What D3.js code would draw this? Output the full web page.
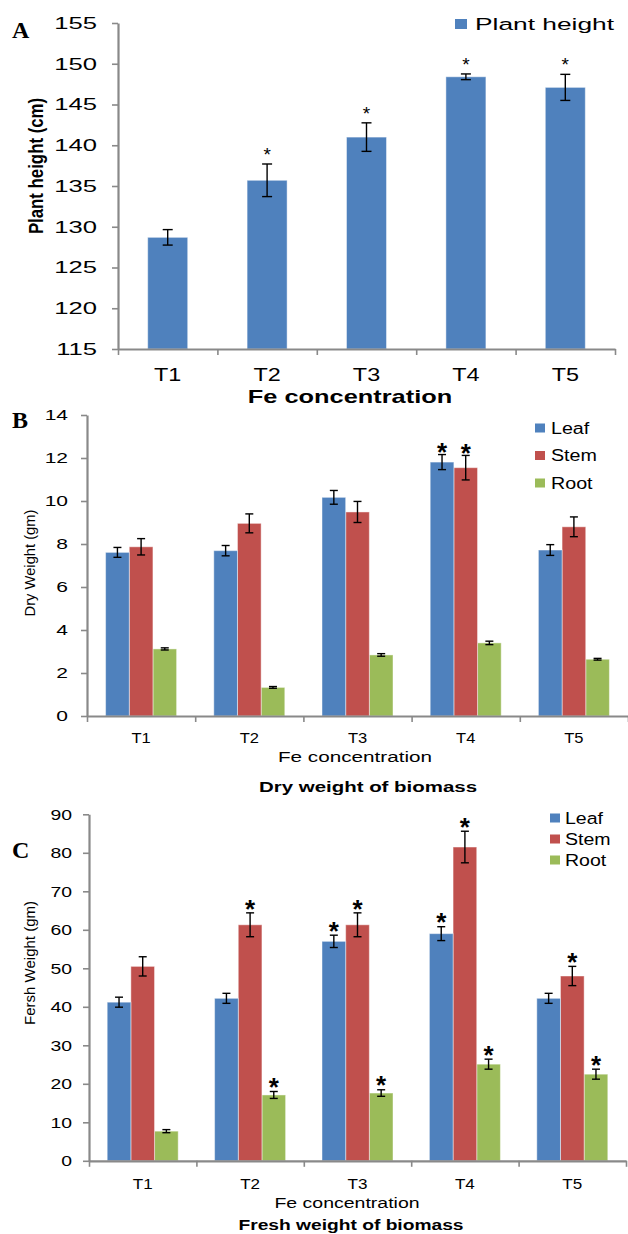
<!DOCTYPE html>
<html>
<head>
<meta charset="utf-8">
<script src="https://cdn.jsdelivr.net/npm/d3@7"></script>
<style>
body { margin: 0; background: #fff; }
svg { display: block; }
</style>
</head>
<body>
<svg id="chart" width="628" height="1234"></svg>
<script>
var categories = ["T1", "T2", "T3", "T4", "T5"];
var series = ["Leaf", "Stem", "Root"];
var colors = ["#4f81bd", "#c0504d", "#9bbb59"];

// A - plant height
var heightTicks = [115, 120, 125, 130, 135, 140, 145, 150, 155];
var heightMean = [128.7, 135.7, 141.0, 148.4, 147.1];
var heightErr = [0.95, 2.0, 1.75, 0.35, 1.6];
var heightSig = [0, 1, 1, 1, 1];

// B - dry weight
var dryTicks = [0, 2, 4, 6, 8, 10, 12, 14];
var dryLeaf = [7.61, 7.69, 10.17, 11.81, 7.72];
var dryStem = [7.87, 8.96, 9.49, 11.55, 8.80];
var dryRoot = [3.12, 1.33, 2.84, 3.40, 2.64];
var dryLeafErr = [0.23, 0.24, 0.32, 0.35, 0.25];
var dryStemErr = [0.38, 0.44, 0.49, 0.57, 0.46];
var dryRootErr = [0.05, 0.04, 0.06, 0.08, 0.04];
var dryLeafSig = [0, 0, 0, 1, 0];
var dryStemSig = [0, 0, 0, 1, 0];
var dryRootSig = [0, 0, 0, 0, 0];

// C - fresh weight
var freshTicks = [0, 10, 20, 30, 40, 50, 60, 70, 80, 90];
var freshLeaf = [41.2, 42.2, 57.0, 59.0, 42.2];
var freshStem = [50.5, 61.3, 61.3, 81.5, 48.0];
var freshRoot = [7.7, 17.1, 17.6, 25.1, 22.5];
var freshLeafErr = [1.3, 1.3, 1.6, 1.8, 1.3];
var freshStemErr = [2.5, 3.1, 3.1, 4.1, 2.5];
var freshRootErr = [0.4, 0.9, 0.85, 1.3, 1.3];
var freshLeafSig = [0, 0, 1, 1, 0];
var freshStemSig = [0, 1, 1, 1, 1];
var freshRootSig = [0, 1, 1, 1, 1];

var svg = d3.select("#chart");
var SANS = "'Liberation Sans', Arial, sans-serif";
var SERIF = "'Liberation Serif', 'Times New Roman', serif";
var AXIS = "#898989";

function label(g, str, x, y, o) {
    var tr = "translate(" + x + "," + y + ")";
    if (o.rotate) tr += " rotate(-90)";
    tr += " scale(" + (o.sx || 1) + ",1)";
    return g.append("text")
        .attr("transform", tr)
        .attr("text-anchor", o.anchor || "middle")
        .attr("font-family", o.family || SANS)
        .attr("font-size", o.size)
        .attr("font-weight", o.weight || "normal")
        .attr("fill", "#000")
        .text(str);
}

function errorBar(g, cx, y, v, e, cap) {
    g.append("line").attr("x1", cx).attr("x2", cx)
        .attr("y1", y(v + e)).attr("y2", y(v - e));
    g.append("line").attr("x1", cx - cap).attr("x2", cx + cap)
        .attr("y1", y(v + e)).attr("y2", y(v + e));
    g.append("line").attr("x1", cx - cap).attr("x2", cx + cap)
        .attr("y1", y(v - e)).attr("y2", y(v - e));
}

function drawPanel(p) {
    var g = svg.append("g");
    var y = d3.scaleLinear().domain(p.yDomain).range(p.yRange);
    var x = d3.scaleBand().domain(categories).range(p.xRange).padding(0);
    var bw = x.bandwidth();

    // bars
    var groupW = p.groupW;
    var inner = d3.scaleBand().domain(d3.range(p.values.length))
        .range([(bw - groupW) / 2, (bw + groupW) / 2]).padding(0);
    var eb = g.append("g").attr("stroke", "#000").attr("stroke-width", 1.4);

    p.values.forEach(function (vals, s) {
        var col = p.colors[s];
        g.insert("g", ":first-child").selectAll("rect")
            .data(vals)
            .enter().append("rect")
            .attr("x", function (d, i) { return x(categories[i]) + inner(s); })
            .attr("y", function (d) { return y(d); })
            .attr("width", inner.bandwidth())
            .attr("height", function (d) { return y(p.yDomain[0]) - y(d); })
            .attr("fill", col)
            .attr("stroke", "rgba(255,255,255,0.45)")
            .attr("stroke-width", 1);

        vals.forEach(function (d, i) {
            var cx = x(categories[i]) + inner(s) + inner.bandwidth() / 2;
            var e = p.errors[s][i];
            errorBar(eb, cx, y, d, e, p.cap);
            if (p.sig[s][i]) {
                var cy = y(d + e) - p.starGap;
                label(g, "*", cx, cy + p.starSize * 0.585, {
                    size: p.starSize, weight: p.starWeight
                });
            }
        });
    });

    // y axis
    var ya = g.append("g")
        .attr("transform", "translate(" + p.xRange[0] + ",0)")
        .call(d3.axisLeft(y).tickValues(p.ticks).tickSize(6).tickSizeOuter(0).tickFormat(""));
    ya.select(".domain").attr("stroke", AXIS).attr("stroke-width", 2.2);
    ya.selectAll(".tick line").attr("stroke", AXIS).attr("stroke-width", 1.6);

    p.ticks.forEach(function (t) {
        label(g, t, p.yLabelX, y(t) + p.yLabelSize * 0.36, {
            size: p.yLabelSize, sx: p.yLabelSx, anchor: "end"
        });
    });

    // x axis, ticks at band edges
    var edges = d3.scaleLinear().domain([0, categories.length]).range(p.xRange);
    var xa = g.append("g")
        .attr("transform", "translate(0," + p.yRange[0] + ")")
        .call(d3.axisBottom(edges).tickValues(d3.range(categories.length + 1))
            .tickSize(6).tickSizeOuter(0).tickFormat(""));
    xa.select(".domain").attr("stroke", AXIS).attr("stroke-width", 2.2);
    xa.selectAll(".tick line").attr("stroke", AXIS).attr("stroke-width", 1.6);

    categories.forEach(function (c) {
        label(g, c, x(c) + bw / 2, p.xLabelY + p.xLabelSize * 0.36, {
            size: p.xLabelSize, sx: p.xLabelSx
        });
    });

    // titles
    label(g, "Fe concentration", p.xTitle[0], p.xTitle[1], p.xTitleStyle);
    label(g, p.yTitle, p.yTitlePos[0], p.yTitlePos[1], p.yTitleStyle);
    if (p.title) label(g, p.title, p.titlePos[0], p.titlePos[1], p.titleStyle);
    label(g, p.letter, p.letterPos[0], p.letterPos[1], {
        size: 24, weight: "bold", family: SERIF, anchor: "start"
    });

    // legend
    p.legendNames.forEach(function (n, i) {
        var ly = p.legend.y + i * p.legend.step;
        g.append("rect")
            .attr("x", p.legend.x).attr("y", ly - p.legend.h / 2)
            .attr("width", p.legend.w).attr("height", p.legend.h)
            .attr("fill", p.colors[i]);
        label(g, n, p.legend.tx, ly + p.legend.size * 0.36, {
            size: p.legend.size, sx: p.legend.sx, anchor: "start"
        });
    });
}

drawPanel({
    letter: "A", letterPos: [12, 38],
    yDomain: [115, 155], yRange: [349, 23], xRange: [118, 615],
    ticks: heightTicks,
    values: [heightMean], errors: [heightErr], sig: [heightSig],
    colors: [colors[0]], groupW: 40, cap: 5,
    starGap: 14, starSize: 19, starWeight: "normal",
    yLabelX: 97, yLabelSize: 16, yLabelSx: 1.6,
    xLabelY: 375, xLabelSize: 18, xLabelSx: 1.3,
    xTitle: [350, 403], xTitleStyle: { size: 17.5, sx: 1.45, weight: "bold" },
    yTitle: "Plant height (cm)", yTitlePos: [43, 166],
    yTitleStyle: { size: 21, sx: 0.8, weight: "bold", rotate: true },
    legendNames: ["Plant height"],
    legend: { x: 455, y: 24, step: 0, w: 12, h: 10, tx: 475, size: 17, sx: 1.55 }
});

drawPanel({
    letter: "B", letterPos: [12, 428],
    yDomain: [0, 14], yRange: [716, 415], xRange: [87, 628],
    ticks: dryTicks,
    values: [dryLeaf, dryStem, dryRoot],
    errors: [dryLeafErr, dryStemErr, dryRootErr],
    sig: [dryLeafSig, dryStemSig, dryRootSig],
    colors: colors, groupW: 71, cap: 4,
    starGap: 9, starSize: 26, starWeight: "bold",
    yLabelX: 68, yLabelSize: 14.5, yLabelSx: 1.45,
    xLabelY: 738, xLabelSize: 15, xLabelSx: 1.1,
    xTitle: [355, 762], xTitleStyle: { size: 15, sx: 1.38 },
    yTitle: "Dry Weight (gm)", yTitlePos: [35, 563],
    yTitleStyle: { size: 15.5, sx: 0.95, rotate: true },
    title: "Dry weight of biomass", titlePos: [368, 792],
    titleStyle: { size: 14.5, sx: 1.41, weight: "bold" },
    legendNames: series,
    legend: { x: 535, y: 428, step: 27.5, w: 10, h: 9, tx: 551, size: 16, sx: 1.23 }
});

drawPanel({
    letter: "C", letterPos: [12, 858],
    yDomain: [0, 90], yRange: [1160.8, 814.3], xRange: [89, 626],
    ticks: freshTicks,
    values: [freshLeaf, freshStem, freshRoot],
    errors: [freshLeafErr, freshStemErr, freshRootErr],
    sig: [freshLeafSig, freshStemSig, freshRootSig],
    colors: colors, groupW: 71, cap: 4,
    starGap: 10.5, starSize: 26, starWeight: "bold",
    yLabelX: 72, yLabelSize: 15.5, yLabelSx: 1.25,
    xLabelY: 1183, xLabelSize: 15.5, xLabelSx: 1.1,
    xTitle: [347, 1208], xTitleStyle: { size: 15, sx: 1.3 },
    yTitle: "Fersh Weight (gm)", yTitlePos: [35, 963],
    yTitleStyle: { size: 15.5, sx: 0.97, rotate: true },
    title: "Fresh weight of biomass", titlePos: [351, 1230],
    titleStyle: { size: 15.5, sx: 1.24, weight: "bold" },
    legendNames: series,
    legend: { x: 550, y: 818, step: 21, w: 10, h: 9, tx: 565, size: 17, sx: 1.15 }
});
</script>
</body>
</html>
